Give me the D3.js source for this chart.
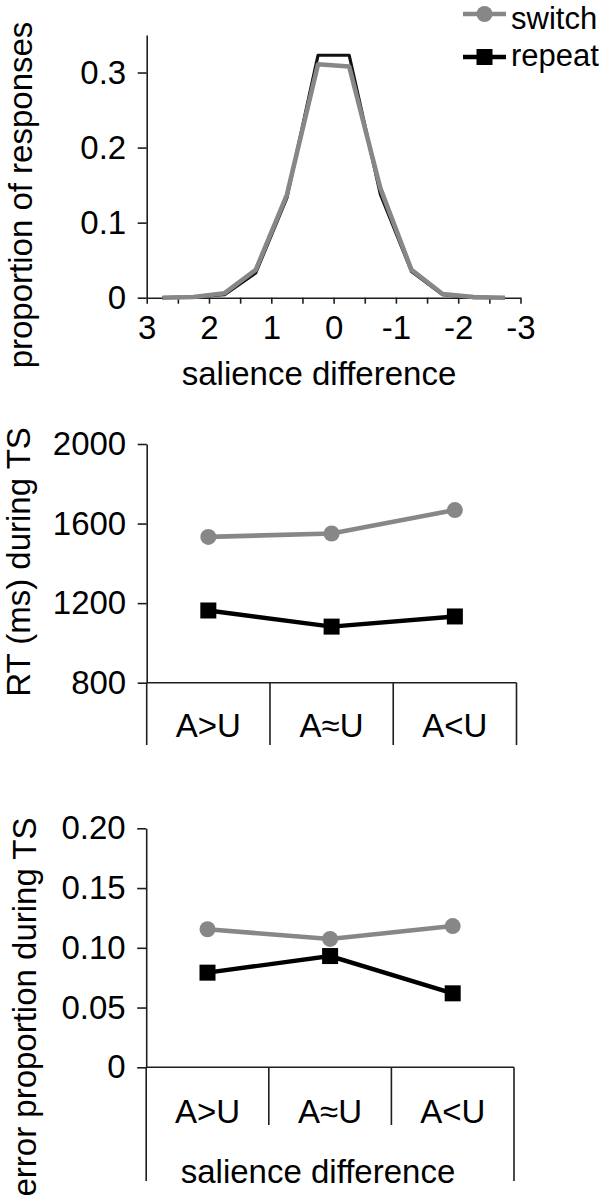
<!DOCTYPE html>
<html>
<head>
<meta charset="utf-8">
<script src="https://cdn.jsdelivr.net/npm/d3@7"></script>
<style>
  html, body { margin: 0; padding: 0; background: #fff; }
  svg { display: block; }
  text { font-family: "Liberation Sans", Arial, sans-serif; fill: #000; }
</style>
</head>
<body>
<svg id="chart" width="606" height="1198"></svg>
<script>
// Distribution of salience differences (bin centres) and response proportions
const binCenters = [2.75, 2.25, 1.75, 1.25, 0.75, 0.25, -0.25, -0.75, -1.25, -1.75, -2.25, -2.75];
const switchProp = [0.000, 0.001, 0.006, 0.037, 0.137, 0.311, 0.308, 0.146, 0.037, 0.005, 0.001, 0.000];
const repeatProp = [0.000, 0.001, 0.004, 0.033, 0.133, 0.323, 0.323, 0.138, 0.035, 0.004, 0.000, 0.000];
const distTicksX = [3, 2.5, 2, 1.5, 1, 0.5, 0, -0.5, -1, -1.5, -2, -2.5, -3];
const distTicksY = [0, 0.1, 0.2, 0.3];

// Salience-difference conditions
const conditions = ["A>U", "A≈U", "A<U"];

// Response times during TS (ms)
const rtSwitch = [1533, 1550, 1668];
const rtRepeat = [1163, 1082, 1133];
const rtTicks = [800, 1200, 1600, 2000];

// Error proportions during TS
const errSwitch = [0.1155, 0.1074, 0.1182];
const errRepeat = [0.0792, 0.0931, 0.0619];
const errTicks = [0, 0.05, 0.10, 0.15, 0.20];

const seriesNames = ["switch", "repeat"];
const grey = "#878787";
const axisColor = "#1e1e1e";
const fontSize = 33;
const legendFontSize = 31;

const svg = d3.select("#chart");

function styleAxis(g) {
  g.selectAll("path, line").attr("stroke", axisColor).attr("stroke-width", 1.6);
  g.selectAll("text").attr("font-size", fontSize).attr("fill", "#000")
    .style("font-family", '"Liberation Sans", Arial, sans-serif');
}

function yTitle(text, x, y) {
  svg.append("text")
    .attr("transform", `translate(${x},${y}) rotate(-90)`)
    .attr("text-anchor", "middle")
    .attr("font-size", fontSize)
    .text(text);
}

// ---------- Panel 1: proportion of responses ----------
{
  const x = d3.scaleLinear().domain([3, -3]).range([146.7, 520.5]);
  const y = d3.scaleLinear().domain([0, 0.35]).range([297.7, 35]);

  const yAxis = svg.append("g").attr("transform", `translate(${x(3)},0)`)
    .call(d3.axisLeft(y).tickValues(distTicksY).tickSize(9).tickSizeOuter(0).tickPadding(11.5)
      .tickFormat(d => d === 0 ? "0" : d3.format(".1f")(d)));
  styleAxis(yAxis);

  const xAxis = svg.append("g").attr("transform", `translate(0,${y(0)})`)
    .call(d3.axisBottom(x).tickValues(distTicksX).tickSize(6).tickSizeOuter(0).tickPadding(12)
      .tickFormat(d => Number.isInteger(d) ? String(d).replace("\u2212", "-") : ""));
  styleAxis(xAxis);

  const line = d3.line().x((d, i) => x(binCenters[i])).y(d => y(d));
  svg.append("path").datum(repeatProp).attr("d", line)
    .attr("fill", "none").attr("stroke", "#111").attr("stroke-width", 3.2)
    .attr("stroke-linejoin", "round");
  svg.append("path").datum(switchProp).attr("d", line)
    .attr("fill", "none").attr("stroke", grey).attr("stroke-width", 4.6)
    .attr("stroke-linejoin", "round");

  svg.append("text").attr("x", 319).attr("y", 385).attr("text-anchor", "middle")
    .attr("font-size", fontSize).text("salience difference");
  yTitle("proportion of responses", 32, 195);

  // legend
  const legend = svg.append("g");
  const rows = [
    { name: seriesNames[0], color: grey, y: 14, base: 28.5 },
    { name: seriesNames[1], color: "#000", y: 57, base: 66 }
  ];
  rows.forEach((r, i) => {
    legend.append("line").attr("x1", 463).attr("x2", 506).attr("y1", r.y).attr("y2", r.y)
      .attr("stroke", r.color).attr("stroke-width", 4.5);
    if (i === 0) {
      legend.append("circle").attr("cx", 484.5).attr("cy", r.y).attr("r", 8).attr("fill", r.color);
    } else {
      legend.append("rect").attr("x", 476.5).attr("y", r.y - 8).attr("width", 16).attr("height", 16).attr("fill", r.color);
    }
    legend.append("text").attr("x", 511).attr("y", r.base).attr("font-size", legendFontSize).text(r.name);
  });
}

// ---------- Category panels (RT and errors) ----------
function categoryPanel(opts) {
  const x = d3.scaleBand().domain(conditions).range([opts.x0, opts.x1]).paddingInner(0).paddingOuter(0);
  const y = d3.scaleLinear().domain(opts.domain).range([opts.yBottom, opts.yTop]);

  const yAxis = svg.append("g").attr("transform", `translate(${opts.x0},0)`)
    .call(d3.axisLeft(y).tickValues(opts.ticks).tickSize(9).tickSizeOuter(0).tickPadding(11.5)
      .tickFormat(opts.fmt));
  styleAxis(yAxis);

  // baseline and category separators
  const g = svg.append("g").attr("stroke", axisColor).attr("stroke-width", 1.6);
  g.append("line").attr("x1", opts.x0).attr("x2", opts.x1)
    .attr("y1", y(opts.domain[0])).attr("y2", y(opts.domain[0]));
  const bounds = conditions.map(c => x(c)).concat([x(conditions[2]) + x.bandwidth()]);
  bounds.forEach((bx, i) => {
    const outer = i === 0 || i === bounds.length - 1;
    g.append("line").attr("x1", bx).attr("x2", bx)
      .attr("y1", y(opts.domain[0])).attr("y2", outer ? opts.outerBottom : opts.innerBottom);
  });

  // category labels
  svg.append("g").selectAll("text").data(conditions).join("text")
    .attr("x", d => x(d) + x.bandwidth() / 2).attr("y", opts.labelY)
    .attr("text-anchor", "middle").attr("font-size", fontSize).text(d => d);

  const cx = c => x(c) + x.bandwidth() / 2;
  const line = d3.line().x((d, i) => cx(conditions[i])).y(d => y(d));

  svg.append("path").datum(opts.sw).attr("d", line).attr("fill", "none")
    .attr("stroke", grey).attr("stroke-width", 4.6);
  svg.append("g").selectAll("circle").data(opts.sw).join("circle")
    .attr("cx", (d, i) => cx(conditions[i])).attr("cy", d => y(d)).attr("r", 8).attr("fill", grey);

  svg.append("path").datum(opts.rp).attr("d", line).attr("fill", "none")
    .attr("stroke", "#000").attr("stroke-width", 4.4);
  svg.append("g").selectAll("rect").data(opts.rp).join("rect")
    .attr("x", (d, i) => cx(conditions[i]) - 8).attr("y", d => y(d) - 8)
    .attr("width", 16).attr("height", 16).attr("fill", "#000");

  yTitle(opts.title, opts.titleX, opts.titleY);
}

categoryPanel({
  domain: [800, 2000], ticks: rtTicks, fmt: d3.format("d"),
  x0: 146.7, x1: 516.5, yBottom: 682.7, yTop: 444,
  innerBottom: 745, outerBottom: 745, labelY: 736.5,
  sw: rtSwitch, rp: rtRepeat,
  title: "RT (ms) during TS", titleX: 30, titleY: 562
});

categoryPanel({
  domain: [0, 0.2], ticks: errTicks, fmt: d => d === 0 ? "0" : d3.format(".2f")(d),
  x0: 146.2, x1: 514, yBottom: 1067.3, yTop: 828.3,
  innerBottom: 1125, outerBottom: 1181, labelY: 1122.5,
  sw: errSwitch, rp: errRepeat,
  title: "error proportion during TS", titleX: 36, titleY: 1007
});

svg.append("text").attr("x", 318).attr("y", 1183).attr("text-anchor", "middle")
  .attr("font-size", fontSize).text("salience difference");
</script>
</body>
</html>
